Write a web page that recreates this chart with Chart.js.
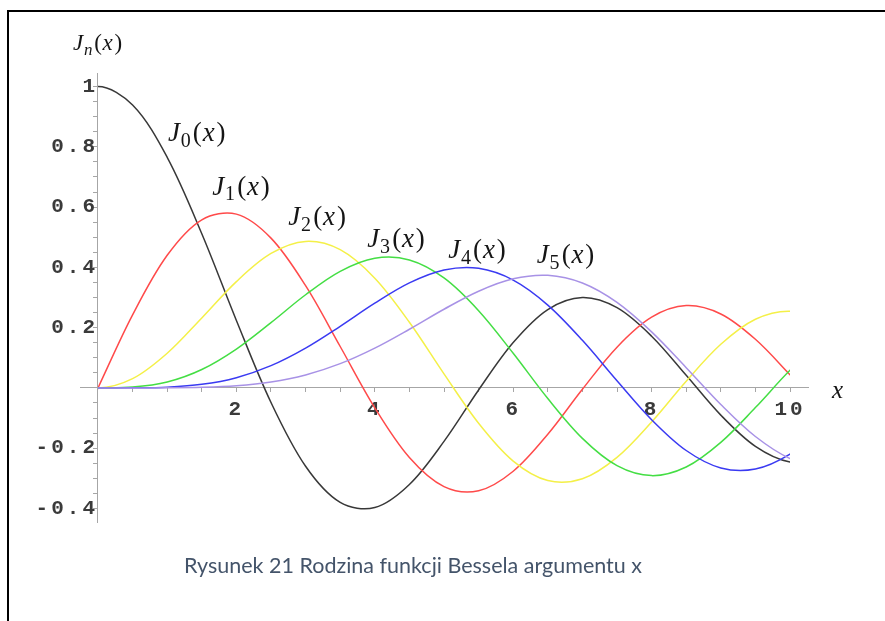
<!DOCTYPE html>
<html>
<head>
<meta charset="utf-8">
<script src="https://cdn.jsdelivr.net/npm/chart.js@4.4.1/dist/chart.umd.min.js"></script>
<style>
  html, body { margin: 0; padding: 0; background: #fff; }
  #wrap { position: relative; width: 885px; height: 621px; overflow: hidden; }
  #frame { position: absolute; left: 7px; top: 10px; width: 900px; height: 700px;
           border-left: 2px solid #000; border-top: 2px solid #000; }
  #c { position: absolute; left: 0; top: 0; }
  #caption { position: absolute; left: 0; width: 826px; top: 553px; line-height: 24px;
             text-align: center; font-family: Lato, "Open Sans", sans-serif; font-size: 21.5px; color: #44546A; }
</style>
</head>
<body>
<div id="wrap">
  <div id="frame"></div>
  <canvas id="c" width="885" height="621"></canvas>
  <div id="caption">Rysunek 21 Rodzina funkcji Bessela argumentu x</div>
</div>
<script>
// Argument values (one step beyond each end so the curves keep their slope at x = 0 and x = 10)
const xValues = [-0.5, 0, 0.5, 1, 1.5, 2, 2.5, 3, 3.5, 4, 4.5, 5, 5.5, 6, 6.5, 7, 7.5, 8, 8.5, 9, 9.5, 10, 10.5];

// Bessel functions of the first kind, orders 0..5
const j0 = [0.9385, 1, 0.9385, 0.7652, 0.5118, 0.2239, -0.0484, -0.2601, -0.3801, -0.3971, -0.3205, -0.1776, -0.0068, 0.1506, 0.2601, 0.3001, 0.2663, 0.1717, 0.0419, -0.0903, -0.1939, -0.2459, -0.2362];
const j1 = [-0.2423, 0, 0.2423, 0.4401, 0.5579, 0.5767, 0.4971, 0.3391, 0.1374, -0.0660, -0.2311, -0.3276, -0.3414, -0.2767, -0.1538, -0.0047, 0.1352, 0.2346, 0.2731, 0.2453, 0.1613, 0.0435, -0.0787];
const j2 = [0.0306, 0, 0.0306, 0.1149, 0.2321, 0.3528, 0.4461, 0.4861, 0.4586, 0.3641, 0.2179, 0.0466, -0.1173, -0.2429, -0.3074, -0.3014, -0.2303, -0.1130, 0.0223, 0.1448, 0.2279, 0.2546, 0.2213];
const j3 = [-0.0026, 0, 0.0026, 0.0196, 0.0610, 0.1289, 0.2166, 0.3091, 0.3868, 0.4302, 0.4247, 0.3648, 0.2561, 0.1148, -0.0354, -0.1676, -0.2581, -0.2911, -0.2626, -0.1809, -0.0653, 0.0584, 0.1629];
const j4 = [0.0002, 0, 0.0002, 0.0025, 0.0118, 0.0340, 0.0738, 0.1320, 0.2044, 0.2811, 0.3484, 0.3912, 0.3967, 0.3576, 0.2748, 0.1578, 0.0238, -0.1054, -0.2077, -0.2655, -0.2691, -0.2196, -0.1284];
const j5 = [0.0000, 0, 0.0000, 0.0002, 0.0018, 0.0070, 0.0195, 0.0430, 0.0804, 0.1321, 0.1947, 0.2611, 0.3209, 0.3621, 0.3736, 0.3479, 0.2835, 0.1858, 0.0671, -0.0550, -0.1613, -0.2341, -0.2605];

const seriesOrders = ['0', '1', '2', '3', '4', '5'];

// Tick labels
const xTickValues = [2, 4, 6, 8, 10];
const xTickLabels = ['2', '4', '6', '8', '10'];
const yTickValues = [-0.4, -0.2, 0.2, 0.4, 0.6, 0.8, 1];
const yTickLabels = ['-0.4', '-0.2', '0.2', '0.4', '0.6', '0.8', '1'];

// Styling
const lineColors = ['#383838', '#ff4a4a', '#f4f048', '#44de44', '#3a3af2', '#a892e6'];
const axisColor = '#a6a6a6';
const tickFont = { family: '"Liberation Mono", monospace', size: 21, weight: 'bold' };

// Curve name placement (data units: left edge, baseline)
const curveLabelAnchors = [
  { x: 1.01, y: 0.818 },
  { x: 1.65, y: 0.640 },
  { x: 2.75, y: 0.540 },
  { x: 3.89, y: 0.467 },
  { x: 5.06, y: 0.430 },
  { x: 6.34, y: 0.414 }
];

function tickText(value, values, labels) {
  for (let i = 0; i < values.length; i++) {
    if (Math.abs(value - values[i]) < 1e-6) return labels[i];
  }
  return '';
}

// Draw "J_sub(x)" starting at (px, baseline py)
function drawBesselName(ctx, px, py, sub, size, subItalic) {
  const serif = '"Liberation Serif", "Times New Roman", serif';
  const subSize = Math.round(size * 0.75);
  ctx.textAlign = 'left';
  ctx.textBaseline = 'alphabetic';
  ctx.font = 'italic ' + size + 'px ' + serif;
  ctx.fillText('J', px, py);
  px += ctx.measureText('J').width + size * 0.03;
  ctx.font = (subItalic ? 'italic ' : '') + subSize + 'px ' + serif;
  ctx.fillText(sub, px, py + size * 0.2);
  px += ctx.measureText(sub).width + size * 0.08;
  ctx.font = size + 'px ' + serif;
  ctx.fillText('(', px, py);
  px += ctx.measureText('(').width + size * 0.03;
  ctx.font = 'italic ' + size + 'px ' + serif;
  ctx.fillText('x', px, py);
  px += ctx.measureText('x').width + size * 0.07;
  ctx.font = size + 'px ' + serif;
  ctx.fillText(')', px, py);
}

// Wider tracking for the monospace tick numbers (scales are drawn before datasets)
const tickTracking = {
  id: 'tickTracking',
  beforeDraw(chart) { chart.ctx.letterSpacing = '3px'; },
  beforeDatasetsDraw(chart) { chart.ctx.letterSpacing = '0px'; }
};

const curveNames = {
  id: 'curveNames',
  afterDatasetsDraw(chart) {
    const ctx = chart.ctx;
    const xs = chart.scales.x, ys = chart.scales.y;
    ctx.save();
    ctx.fillStyle = '#151515';
    seriesOrders.forEach((n, i) => {
      const a = curveLabelAnchors[i];
      drawBesselName(ctx, xs.getPixelForValue(a.x), ys.getPixelForValue(a.y), n, 27, false);
    });
    // Axis titles
    const ox = xs.getPixelForValue(0);
    drawBesselName(ctx, ox - 25, chart.chartArea.top - 23, 'n', 23, true);
    ctx.font = 'italic 25px "Liberation Serif", serif';
    ctx.fillText('x', chart.chartArea.right + 24, ys.getPixelForValue(0) + 10);
    ctx.restore();
  }
};

const seriesValues = [j0, j1, j2, j3, j4, j5];

// Curves run over 0 <= x <= 10 only: clip 18 px inside the plot box on both sides
const curveClip = { left: -18, right: -18, top: false, bottom: false };

new Chart(document.getElementById('c'), {
  type: 'line',
  data: {
    datasets: seriesValues.map((vals, i) => ({
      label: 'J' + seriesOrders[i] + '(x)',
      data: xValues.map((x, k) => ({ x: x, y: vals[k] })),
      borderColor: lineColors[i],
      borderWidth: 1.5,
      pointRadius: 0,
      tension: 0.34,
      fill: false,
      clip: curveClip,
      order: seriesValues.length - 1 - i
    }))
  },
  options: {
    responsive: false,
    animation: false,
    devicePixelRatio: 1,
    events: [],
    layout: { padding: { left: 80, right: 77, top: 73, bottom: 99 } },
    plugins: { legend: { display: false }, tooltip: { enabled: false }, title: { display: false } },
    scales: {
      x: {
        type: 'linear', min: -0.26, max: 10.26,
        position: { y: 0 },
        border: { display: true, color: axisColor, width: 1 },
        grid: { display: true, drawOnChartArea: false, drawTicks: true, tickLength: 4, color: axisColor },
        ticks: {
          stepSize: 0.5, autoSkip: false, includeBounds: false, maxRotation: 0, maxTicksLimit: 100,
          padding: 5, color: '#3a3a3a', font: tickFont,
          callback: v => tickText(v, xTickValues, xTickLabels)
        }
      },
      y: {
        type: 'linear', min: -0.445, max: 1.045,
        position: { x: 0 },
        border: { display: true, color: axisColor, width: 1 },
        grid: { display: true, drawOnChartArea: false, drawTicks: true, tickLength: 4, color: axisColor },
        ticks: {
          stepSize: 0.05, autoSkip: false, includeBounds: false, maxTicksLimit: 100,
          padding: 6, color: '#3a3a3a', font: tickFont,
          callback: v => tickText(v, yTickValues, yTickLabels)
        }
      }
    }
  },
  plugins: [tickTracking, curveNames]
});
</script>
</body>
</html>
